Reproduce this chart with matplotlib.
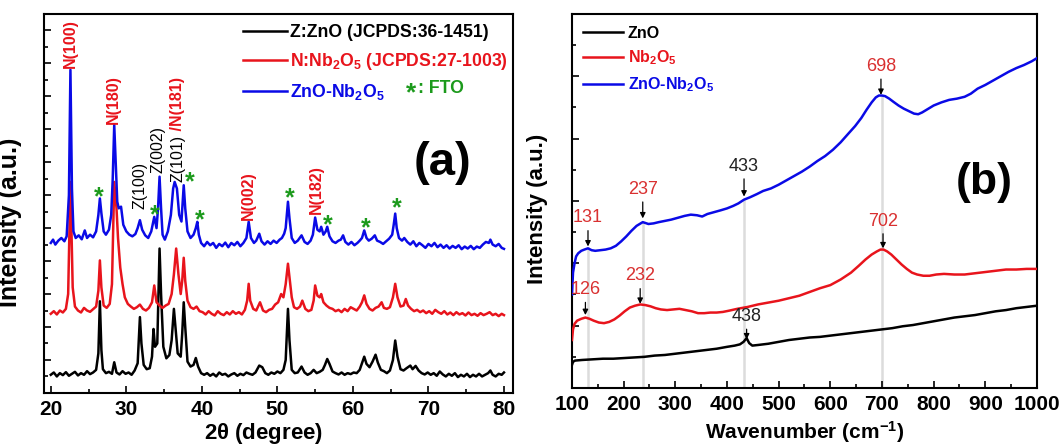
import matplotlib
matplotlib.use("Agg")
import matplotlib.pyplot as plt

plt.rcParams["font.family"] = ["Liberation Sans", "DejaVu Sans"]
plt.rcParams["mathtext.fontset"] = "custom"
plt.rcParams["mathtext.rm"] = "Liberation Sans"
plt.rcParams["mathtext.bf"] = "Liberation Sans:bold"
plt.rcParams["mathtext.it"] = "Liberation Sans:italic"

BLACK = "#000000"
RED = "#e8141c"
BLUE = "#0a0ae6"
GREEN = "#1c9a1c"
LRED = "#d93030"

# ---- (a) XRD ----
zno_x = [20.0, 20.4, 20.8, 21.2, 21.6, 22.0, 22.4, 22.8, 23.2, 23.6, 24.0, 24.4, 24.8, 25.2, 25.6, 26.0, 26.3, 26.5,
         26.7, 26.9, 27.3, 27.7, 28.1, 28.4, 28.7, 29.1, 29.5, 29.9, 30.3, 30.7, 31.1, 31.5, 31.8, 32.0, 32.3, 32.7,
         33.1, 33.4, 33.6, 33.8, 34.1, 34.4, 34.6, 34.9, 35.3, 35.7, 36.0, 36.3, 36.5, 36.8, 37.2, 37.4, 37.6, 37.8,
         38.1, 38.5, 38.9, 39.2, 39.5, 39.9, 40.3, 40.7, 41.1, 41.5, 41.9, 42.3, 42.7, 43.1, 43.5, 43.9, 44.3, 44.7,
         45.1, 45.5, 45.9, 46.3, 46.7, 47.1, 47.6, 48.0, 48.4, 48.8, 49.2, 49.6, 50.0, 50.4, 50.8, 51.1, 51.4, 51.6,
         51.9, 52.3, 52.7, 53.2, 53.6, 54.0, 54.4, 54.8, 55.2, 55.6, 56.0, 56.3, 56.6, 56.9, 57.3, 57.7, 58.1, 58.5,
         58.9, 59.3, 59.7, 60.1, 60.5, 60.9, 61.2, 61.5, 61.8, 62.2, 62.6, 63.0, 63.3, 63.7, 64.1, 64.5, 64.9, 65.3,
         65.6, 65.9, 66.3, 66.7, 67.1, 67.6, 67.9, 68.3, 68.7, 69.1, 69.5, 69.9, 70.3, 70.7, 71.1, 71.5, 71.9, 72.3,
         72.7, 73.1, 73.5, 73.9, 74.3, 74.7, 75.1, 75.5, 75.9, 76.3, 76.7, 77.1, 77.5, 77.9, 78.2, 78.5, 78.9, 79.3,
         79.7, 80.0]
zno_y = [55, 62, 50, 60, 54, 63, 52, 58, 64, 53, 60, 55, 66, 57, 62, 70, 120, 278,
         130, 72, 60, 64, 58, 93, 62, 56, 66, 58, 62, 55, 68, 90, 230, 150, 85, 72,
         75, 110, 194, 140, 150, 438, 300, 140, 105, 115, 160, 255, 200, 120, 110, 180, 275, 200,
         95, 80, 85, 106, 80, 60, 55, 60, 52, 58, 50, 62, 55, 58, 50, 56, 60, 52,
         58, 54, 62, 58, 55, 62, 83, 78, 60, 55, 62, 58, 65, 60, 70, 100, 255, 160,
         70, 60, 62, 80, 62, 55, 60, 70, 60, 64, 70, 85, 103, 88, 65, 60, 56, 62,
         55, 60, 57, 62, 60, 70, 90, 110, 88, 78, 95, 116, 92, 70, 66, 60, 68, 100,
         159, 110, 72, 68, 75, 83, 72, 82, 68, 60, 56, 62, 55, 60, 52, 65, 56, 50,
         58, 52, 60, 48, 55, 50, 58, 48, 55, 50, 58, 50, 55, 60, 68, 55, 50, 58,
         55, 62]

nb_x = [20.0, 20.4, 20.8, 21.2, 21.6, 22.0, 22.3, 22.6, 22.9, 23.2, 23.6, 24.0, 24.4, 24.8, 25.2, 25.6, 26.0, 26.3,
        26.5, 26.7, 27.0, 27.4, 27.8, 28.1, 28.4, 28.7, 28.9, 29.2, 29.5, 29.8, 30.2, 30.6, 31.0, 31.4, 31.8, 32.2,
        32.6, 33.0, 33.4, 33.7, 34.0, 34.4, 34.8, 35.2, 35.6, 36.0, 36.3, 36.6, 36.9, 37.2, 37.4, 37.6, 37.8, 38.1,
        38.5, 38.9, 39.3, 39.7, 40.1, 40.5, 40.9, 41.3, 41.7, 42.1, 42.5, 42.9, 43.3, 43.7, 44.1, 44.5, 44.9, 45.3,
        45.7, 46.0, 46.2, 46.4, 46.8, 47.2, 47.7, 48.1, 48.5, 48.9, 49.3, 49.7, 50.1, 50.5, 50.8, 51.1, 51.4, 51.6,
        51.9, 52.2, 52.6, 53.0, 53.3, 53.7, 54.1, 54.5, 54.8, 55.0, 55.3, 55.6, 55.8, 56.1, 56.5, 56.9, 57.3, 57.7,
        58.1, 58.5, 58.9, 59.3, 59.7, 60.1, 60.5, 60.9, 61.2, 61.5, 61.8, 62.2, 62.6, 63.0, 63.4, 63.8, 64.1, 64.5,
        64.9, 65.3, 65.6, 65.9, 66.3, 66.7, 67.0, 67.3, 67.7, 68.1, 68.5, 68.9, 69.3, 69.7, 70.1, 70.5, 70.9, 71.3,
        71.7, 72.1, 72.5, 72.9, 73.3, 73.7, 74.1, 74.5, 74.9, 75.3, 75.7, 76.1, 76.5, 76.9, 77.3, 77.7, 78.1, 78.5,
        78.9, 79.3, 79.7, 80.0]
nb_y = [240, 248, 238, 250, 244, 255, 300, 640, 320, 262, 250, 244, 258, 250, 246, 254, 262, 310,
        402, 320, 265, 258, 270, 330, 640, 560, 470, 380, 330, 290, 270, 262, 255, 260, 268, 255,
        250, 258, 275, 326, 275, 265, 258, 265, 270, 300, 360, 438, 360, 300, 340, 410, 340, 280,
        260, 255, 262, 248, 245, 238, 248, 240, 235, 248, 240, 236, 245, 238, 248, 240, 245, 238,
        252, 280, 331, 280, 255, 250, 275, 250, 245, 252, 255, 268, 275, 300, 290, 330, 392, 350,
        290, 260, 255, 262, 280, 255, 248, 252, 280, 326, 295, 290, 300, 275, 265, 258, 255, 248,
        252, 245, 255, 248, 260, 255, 250, 262, 275, 296, 270, 255, 250, 258, 262, 275, 258, 255,
        260, 290, 331, 290, 262, 265, 285, 265, 255, 248, 252, 245, 250, 242, 248, 240, 252, 245,
        240, 248, 238, 244, 236, 245, 238, 242, 235, 244, 236, 240, 234, 242, 236, 240, 245, 236,
        240, 233, 240, 236]

mix_x = [20.0, 20.3, 20.6, 21.0, 21.4, 21.8, 22.1, 22.4, 22.6, 22.8, 23.0, 23.3, 23.7, 24.1, 24.5, 24.8, 25.2, 25.6,
         26.0, 26.3, 26.5, 26.7, 27.0, 27.3, 27.7, 28.0, 28.2, 28.4, 28.6, 28.8, 29.0, 29.3, 29.6, 30.0, 30.4, 30.8,
         31.2, 31.5, 31.8, 32.1, 32.5, 32.9, 33.3, 33.7, 34.0, 34.2, 34.4, 34.6, 34.8, 35.1, 35.5, 35.9, 36.2, 36.4,
         36.7, 37.0, 37.3, 37.6, 37.8, 38.1, 38.5, 38.9, 39.2, 39.4, 39.6, 39.9, 40.3, 40.7, 41.1, 41.5, 41.9, 42.3,
         42.7, 43.1, 43.5, 43.9, 44.3, 44.7, 45.1, 45.5, 45.9, 46.2, 46.5, 46.9, 47.2, 47.6, 47.9, 48.3, 48.7, 49.1,
         49.5, 49.9, 50.3, 50.6, 50.9, 51.1, 51.4, 51.6, 51.9, 52.3, 52.7, 53.2, 53.6, 54.0, 54.4, 54.7, 55.0, 55.3,
         55.6, 55.8, 56.1, 56.4, 56.6, 56.9, 57.3, 57.7, 58.1, 58.4, 58.7, 59.0, 59.4, 59.8, 60.2, 60.6, 60.9, 61.2,
         61.5, 61.8, 62.1, 62.5, 62.9, 63.2, 63.6, 64.0, 64.4, 64.8, 65.2, 65.4, 65.6, 65.8, 66.1, 66.5, 66.8, 67.2,
         67.6, 68.0, 68.4, 68.8, 69.2, 69.6, 70.0, 70.4, 70.8, 71.2, 71.6, 72.0, 72.4, 72.8, 73.2, 73.6, 74.0, 74.4,
         74.8, 75.2, 75.6, 76.0, 76.4, 76.8, 77.2, 77.6, 78.0, 78.2, 78.5, 78.9, 79.3, 79.7, 80.0]
mix_y = [455, 465, 450, 462, 470, 460, 475, 600, 980, 620, 490, 470, 478, 466, 493, 470, 480, 472,
         490, 540, 590, 545, 490, 480, 495, 540, 650, 813, 700, 580, 560, 565, 510, 490, 480, 475,
         482, 500, 524, 495, 478, 470, 490, 534, 500, 560, 656, 560, 480, 465, 490, 540, 620, 640,
         620, 540, 520, 630, 560, 490, 470, 480, 500, 519, 480, 455, 445, 458, 448, 455, 440, 452,
         445, 456, 442, 455, 448, 458, 445, 455, 470, 519, 470, 455, 462, 483, 460, 450, 460, 452,
         462, 455, 465, 470, 483, 500, 580, 530, 470, 455, 462, 478, 458, 452, 462, 480, 532, 495,
         490, 504, 480, 490, 504, 475, 460, 455, 462, 465, 478, 458, 450, 458, 448, 455, 462, 470,
         493, 470, 462, 468, 478, 462, 458, 452, 460, 468, 480, 510, 544, 500, 470, 462, 470, 458,
         450, 460, 445, 455, 448, 440, 452, 445, 455, 442, 450, 440, 448, 438, 446, 440, 448, 436,
         444, 438, 446, 436, 444, 440, 450, 458, 455, 465, 450, 445, 452, 440, 437]

peak_labels = ["N(100)", "N(180)", "Z(100)", "Z(002)", "Z(101)", "N(002)", "N(182)"]
peak_label_x = [22.6, 28.3, 31.8, 34.2, 36.8, 46.2, 55.1]
peak_label_y = [985, 816, 559, 666, 640, 524, 544]
fto_x = [26.4, 33.7, 38.4, 39.7, 51.7, 56.7, 61.7, 65.8]
fto_y = [615, 559, 661, 544, 610, 529, 519, 580]

# ---- (b) Raman ----
rz_x = [100, 102, 106, 120, 140, 160, 180, 200, 220, 240, 260, 280, 300, 320, 340, 360, 380, 400, 415, 425, 432,
        438, 443, 449, 460, 480, 500, 520, 540, 560, 580, 600, 620, 640, 660, 680, 700, 720, 740, 760, 780, 800,
        820, 840, 860, 880, 900, 920, 940, 960, 980, 1000]
rz_y = [37, 42, 44, 45, 46, 47, 47, 48, 49, 50, 52, 53, 55, 57, 59, 61, 63, 66, 68, 70, 74,
        80, 72, 68, 69, 71, 74, 77, 79, 81, 82, 84, 86, 88, 90, 92, 94, 96, 99, 101, 104, 107,
        110, 113, 115, 117, 120, 123, 125, 128, 130, 132]

rn_x = [100, 102, 105, 110, 118, 126, 134, 142, 152, 162, 172, 182, 192, 202, 212, 222, 232, 242, 252, 262, 272,
        284, 296, 308, 320, 332, 344, 356, 368, 380, 392, 404, 420, 440, 460, 480, 500, 520, 540, 560, 580, 600,
        620, 640, 655, 668, 680, 690, 697, 703, 710, 718, 728, 738, 748, 758, 768, 780, 792, 805, 820, 840, 860,
        880, 900, 920, 940, 960, 980, 1000]
rn_y = [77, 94, 103, 108, 111, 113, 111, 108, 105, 104, 106, 110, 116, 123, 129, 132, 134, 133, 131, 128, 126,
        125, 126, 127, 125, 123, 120, 120, 121, 121, 122, 124, 127, 130, 134, 137, 140, 144, 148, 154, 160, 165,
        174, 185, 196, 206, 214, 219, 222, 222, 219, 214, 206, 198, 191, 185, 182, 180, 180, 182, 183, 182, 182,
        184, 186, 188, 190, 190, 191, 191]

rm_x = [100, 102, 105, 108, 112, 118, 124, 131, 138, 145, 155, 165, 175, 185, 195, 205, 215, 225, 237, 248, 258,
        268, 280, 292, 305, 318, 330, 342, 352, 362, 375, 388, 400, 412, 422, 433, 445, 458, 470, 485, 500, 515,
        530, 545, 560, 575, 590, 605, 620, 635, 648, 660, 670, 680, 688, 694, 700, 706, 714, 722, 732, 742, 752,
        762, 770, 778, 788, 800, 815, 830, 845, 860, 872, 885, 900, 915, 930, 945, 960, 975, 990, 1000]
rm_y = [150, 185, 200, 211, 216, 220, 222, 224, 221, 220, 221, 222, 224, 228, 235, 243, 252, 260, 266, 263, 264,
        266, 268, 270, 273, 276, 278, 277, 275, 279, 282, 285, 288, 292, 296, 302, 306, 311, 316, 320, 326, 333,
        340, 347, 355, 364, 372, 382, 394, 408, 420, 433, 446, 458, 466, 469, 469, 468, 464, 459, 453, 448, 444,
        440, 439, 442, 447, 453, 458, 462, 464, 467, 472, 480, 486, 493, 500, 507, 513, 518, 524, 529]

guide_x = [131, 237, 433, 700]
guide_top = [226, 266, 302, 469]
ann_text = ["131", "237", "433", "698", "702", "126", "232", "438"]
ann_x = [131, 237, 433, 698, 702, 126, 232, 438]
ann_tip = [227, 272, 307, 470, 224, 117, 135, 78]
ann_ytext = [259, 305, 342, 502, 254, 144, 166, 101]
ann_color = [LRED, LRED, "#222222", LRED, LRED, LRED, LRED, "#222222"]

fig = plt.figure(figsize=(10.6, 4.46), dpi=100)
ax1 = fig.add_axes([0.0415, 0.119, 0.4425, 0.850])
ax2 = fig.add_axes([0.5396, 0.130, 0.4387, 0.839])

l1, = ax1.plot(zno_x, zno_y, color=BLACK, lw=1.8)
l2, = ax1.plot(nb_x, nb_y, color=RED, lw=1.8)
l3, = ax1.plot(mix_x, mix_y, color=BLUE, lw=1.8)
ax1.set_xlim(19.1, 81.2)
ax1.set_ylim(0, 1150)
ax1.set_xticks(range(20, 81, 10))
ax1.set_xticks(range(25, 80, 10), minor=True)
ax1.set_yticks(range(100, 1101, 100))
ax1.set_yticks(range(50, 1150, 100), minor=True)
ax1.set_yticklabels([])
ax1.set_xlabel(r"2$\mathbf{\theta}$ (degree)", fontsize=16, fontweight="bold")
ax1.xaxis.set_label_coords(0.469, -0.074)
ax1.set_ylabel("Intensity (a.u.)", fontsize=18, fontweight="bold")
ax1.yaxis.set_label_coords(-0.047, 0.451)

for lab, x, y in zip(peak_labels, peak_label_x, peak_label_y):
    c = RED if lab.startswith("N") else BLACK
    t = ax1.text(x, y, lab, rotation=90, ha="center", va="bottom", color=c,
                 fontsize=11.5, fontweight="bold" if c == RED else "normal")
    if lab == "Z(101)":
        ax1.annotate(" /N(181)", xy=(0.5, 1), xycoords=t, rotation=90, ha="center", va="bottom",
                     color=RED, fontsize=11.5, fontweight="bold")
for x, y in zip(fto_x, fto_y):
    ax1.text(x, y - 42, "*", ha="center", va="baseline", color=GREEN, fontsize=18, fontweight="bold")

leg1 = ax1.legend([l1, l2, l3],
                  ["Z:ZnO (JCPDS:36-1451)", r"N:Nb$_\mathbf{2}$O$_\mathbf{5}$ (JCPDS:27-1003)",
                   r"ZnO-Nb$_\mathbf{2}$O$_\mathbf{5}$"],
                  loc="upper left", bbox_to_anchor=(0.424, 0.972), frameon=False, borderpad=0,
                  borderaxespad=0, handlelength=2.5, handletextpad=0.15, labelspacing=0.55,
                  prop={"size": 12.7, "weight": "bold"})
for txt, c in zip(leg1.get_texts(), [BLACK, RED, BLUE]):
    txt.set_color(c)
ax1.text(0.782, 0.772, "*", transform=ax1.transAxes, ha="center", va="baseline", color=GREEN,
         fontsize=19, fontweight="bold")
ax1.text(0.797, 0.804, ": FTO", transform=ax1.transAxes, ha="left", va="center", color=GREEN,
         fontsize=12.7, fontweight="bold")
ax1.text(71.9, 696, "(a)", ha="center", va="center", fontsize=34, fontweight="bold")

ax2.vlines(guide_x, 0, guide_top, color="#dcdcdc", lw=1.8, zorder=1)
r1, = ax2.plot(rz_x, rz_y, color=BLACK, lw=1.8, zorder=3)
r2, = ax2.plot(rn_x, rn_y, color=RED, lw=1.8, zorder=3)
r3, = ax2.plot(rm_x, rm_y, color=BLUE, lw=1.8, zorder=3)
ax2.set_xlim(100, 1000)
ax2.set_ylim(0, 600)
ax2.set_xticks(range(100, 1001, 100))
ax2.set_xticks(range(150, 1000, 100), minor=True)
ax2.set_yticks(range(100, 600, 100))
ax2.set_yticks(range(50, 600, 100), minor=True)
ax2.set_yticklabels([])
ax2.set_xlabel(r"Wavenumber (cm$^{\mathbf{-1}}$)", fontsize=15, fontweight="bold")
ax2.xaxis.set_label_coords(0.5, -0.083)
ax2.set_ylabel("Intensity (a.u.)", fontsize=16, fontweight="bold")
ax2.yaxis.set_label_coords(-0.052, 0.48)

for lab, x, tip, yt, c in zip(ann_text, ann_x, ann_tip, ann_ytext, ann_color):
    ax2.annotate(lab, xy=(x, tip), xytext=(x, yt), ha="center", va="bottom", color=c, fontsize=13,
                 arrowprops=dict(arrowstyle="-|>", color="k", lw=0.9, mutation_scale=8, shrinkA=1, shrinkB=0))

leg2 = ax2.legend([r1, r2, r3], ["ZnO", r"Nb$_\mathbf{2}$O$_\mathbf{5}$", r"ZnO-Nb$_\mathbf{2}$O$_\mathbf{5}$"],
                  loc="upper left", bbox_to_anchor=(0.024, 0.968), frameon=False, borderpad=0,
                  borderaxespad=0, handlelength=2.5, handletextpad=0.3, labelspacing=0.5,
                  prop={"size": 11.5, "weight": "bold"})
for txt, c in zip(leg2.get_texts(), [BLACK, RED, BLUE]):
    txt.set_color(c)
ax2.text(897, 330, "(b)", ha="center", va="center", fontsize=32, fontweight="bold")

for ax in (ax1, ax2):
    for s in ax.spines.values():
        s.set_linewidth(1.5)
    ax.tick_params(which="both", direction="in", top=False, right=False, width=1.2)
    ax.tick_params(which="major", length=5, labelsize=15, pad=5)
    ax.tick_params(which="minor", length=3)
    for lbl in ax.get_xticklabels():
        lbl.set_fontweight("bold")

fig.savefig("out.png", dpi=100)
